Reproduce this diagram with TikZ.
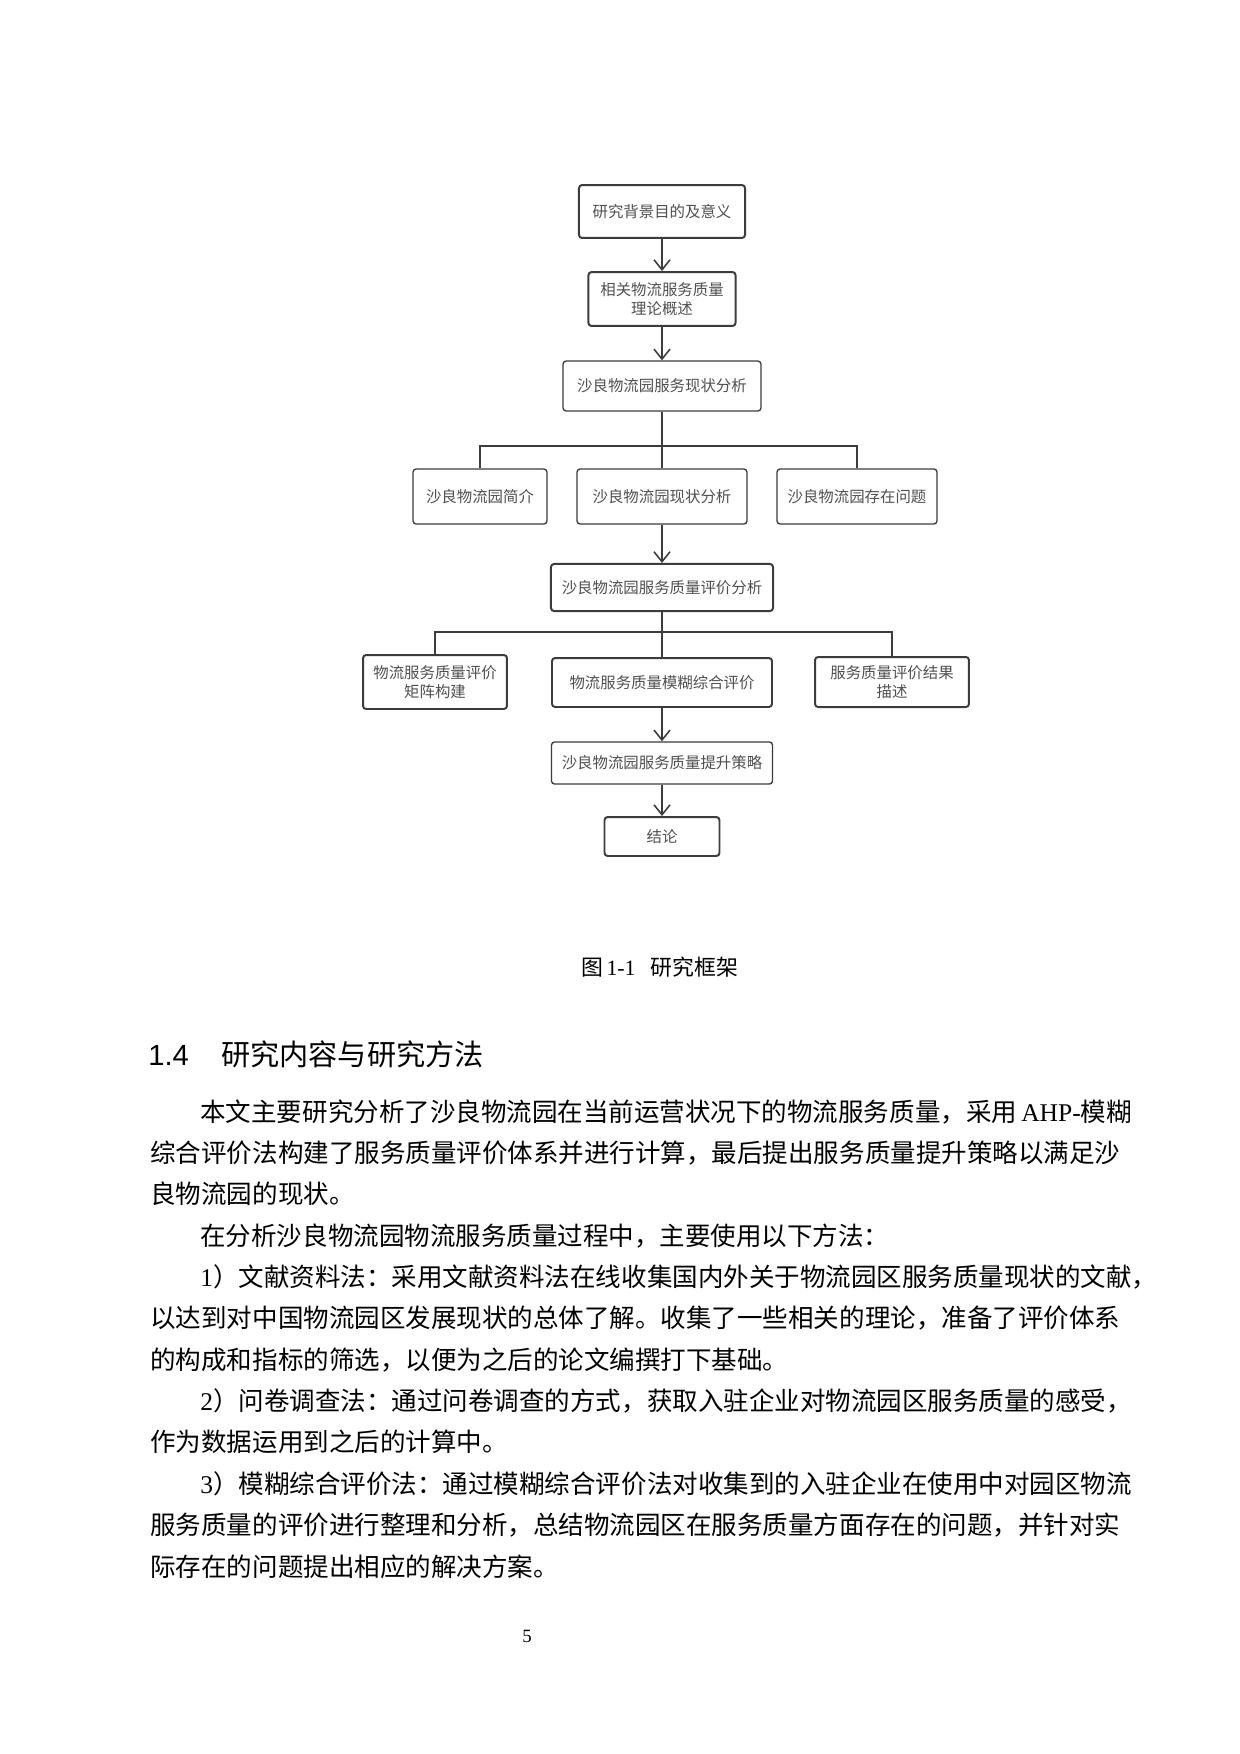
\documentclass[tikz,border=0pt]{standalone}
\usepackage{fontspec}
\setmainfont{Liberation Serif}
\newfontfamily\cjk{Noto Sans CJK SC}
\newfontfamily\lsans{Liberation Sans}
\usetikzlibrary{arrows.meta}
\definecolor{linec}{HTML}{3C3C3C}
\definecolor{boxtext}{HTML}{505050}
\begin{document}
\begin{tikzpicture}[x=0.48pt,y=-0.48pt,
  boxbase/.style={draw=linec, rounded corners=1.5pt, inner sep=0pt, align=center, text=boxtext, font=\cjk\fontsize{7.4}{9}\selectfont},
  boxthick/.style={boxbase, line width=0.95pt},
  boxthin/.style={boxbase, line width=0.65pt},
  conn/.style={draw=linec, line width=0.75pt},
  arr/.style={conn, -{Straight Barb[length=4.8pt,width=7.7pt]}},
  bodyline/.style={anchor=base west, inner sep=0pt, font=\cjk\fontsize{12.25}{14}\selectfont},
]
\fill[white] (0,0) rectangle (1240,1754);
\useasboundingbox (0,0) rectangle (1240,1754);

% flowchart boxes
\node[boxthick, minimum width=79.7pt, minimum height=25.4pt] (b1) at (662,211.5) {研究背景目的及意义};
\node[boxthick, minimum width=70.6pt, minimum height=25.9pt] (b2) at (662,299) {相关物流服务质量\\理论概述};
\node[boxthin, minimum width=95pt, minimum height=24pt] (b3) at (662,386) {沙良物流园服务现状分析};
\node[boxthin, minimum width=64.3pt, minimum height=26.4pt] (b4a) at (480,496.5) {沙良物流园简介};
\node[boxthin, minimum width=81.6pt, minimum height=26.4pt] (b4b) at (662,496.5) {沙良物流园现状分析};
\node[boxthin, minimum width=76.8pt, minimum height=26.4pt] (b4c) at (857,496.5) {沙良物流园存在问题};
\node[boxthick, minimum width=106.6pt, minimum height=22.6pt] (b5) at (662,587.5) {沙良物流园服务质量评价分析};
\node[boxthick, minimum width=69.1pt, minimum height=25.9pt] (b6a) at (435,682) {物流服务质量评价\\矩阵构建};
\node[boxthick, minimum width=105.6pt, minimum height=23.5pt] (b6b) at (662,682.5) {物流服务质量模糊综合评价};
\node[boxthick, minimum width=73.9pt, minimum height=24pt] (b6c) at (892,682) {服务质量评价结果\\描述};
\node[boxthin, minimum width=106.1pt, minimum height=20.2pt] (b7) at (662,763) {沙良物流园服务质量提升策略};
\node[boxthick, minimum width=55.2pt, minimum height=18.7pt] (b8) at (662,836.5) {结论};

\coordinate (j1) at (662,446);
\coordinate (j2) at (662,632);

% connectors
\draw[arr] (b1) -- (b2);
\draw[arr] (b2) -- (b3);
\draw[conn] (b3) -- (b4b);
\draw[conn] (b4a.north) -- (b4a.north |- j1) -- (b4c.north |- j1) -- (b4c.north);
\draw[arr] (b4b) -- (b5);
\draw[conn] (b5) -- (b6b);
\draw[conn] (b6a.north) -- (b6a.north |- j2) -- (b6c.north |- j2) -- (b6c.north);
\draw[arr] (b6b) -- (b7);
\draw[arr] (b7) -- (b8);

% caption
\node[anchor=base, inner sep=0pt, font=\cjk\fontsize{10.5}{12}\selectfont] (cap) at (660,975) {图\hspace{1.5pt}{\rmfamily 1-1}\hspace{0.7em}研究框架};

% heading
\node[anchor=base west, inner sep=0pt, font=\cjk\fontsize{14}{16}\selectfont] (head) at (148,1065) {{\lsans 1.4}\hspace{15.5pt}研究内容与研究方法};

% body text
\node[bodyline] (l1) at (200,1121.0) {本文主要研究分析了沙良物流园在当前运营状况下的物流服务质量，采用\hspace{2pt}{\rmfamily AHP-}模糊};
\node[bodyline] (l2) at (150,1162.4) {综合评价法构建了服务质量评价体系并进行计算，最后提出服务质量提升策略以满足沙};
\node[bodyline] (l3) at (150,1203.7) {良物流园的现状。};
\node[bodyline] (l4) at (200,1245.1) {在分析沙良物流园物流服务质量过程中，主要使用以下方法：};
\node[bodyline] (l5) at (200,1286.4) {{\rmfamily 1}）文献资料法：采用文献资料法在线收集国内外关于物流园区服务质量现状的文献，};
\node[bodyline] (l6) at (150,1327.8) {以达到对中国物流园区发展现状的总体了解。收集了一些相关的理论，准备了评价体系};
\node[bodyline] (l7) at (150,1369.2) {的构成和指标的筛选，以便为之后的论文编撰打下基础。};
\node[bodyline] (l8) at (200,1410.5) {{\rmfamily 2}）问卷调查法：通过问卷调查的方式，获取入驻企业对物流园区服务质量的感受，};
\node[bodyline] (l9) at (150,1451.9) {作为数据运用到之后的计算中。};
\node[bodyline] (l10) at (200,1493.2) {{\rmfamily 3}）模糊综合评价法：通过模糊综合评价法对收集到的入驻企业在使用中对园区物流};
\node[bodyline] (l11) at (150,1534.6) {服务质量的评价进行整理和分析，总结物流园区在服务质量方面存在的问题，并针对实};
\node[bodyline] (l12) at (150,1576.0) {际存在的问题提出相应的解决方案。};

% page number
\node[anchor=base, inner sep=0pt, font=\fontsize{9}{10}\selectfont] (pn) at (527,1642) {5};
\end{tikzpicture}
\end{document}
